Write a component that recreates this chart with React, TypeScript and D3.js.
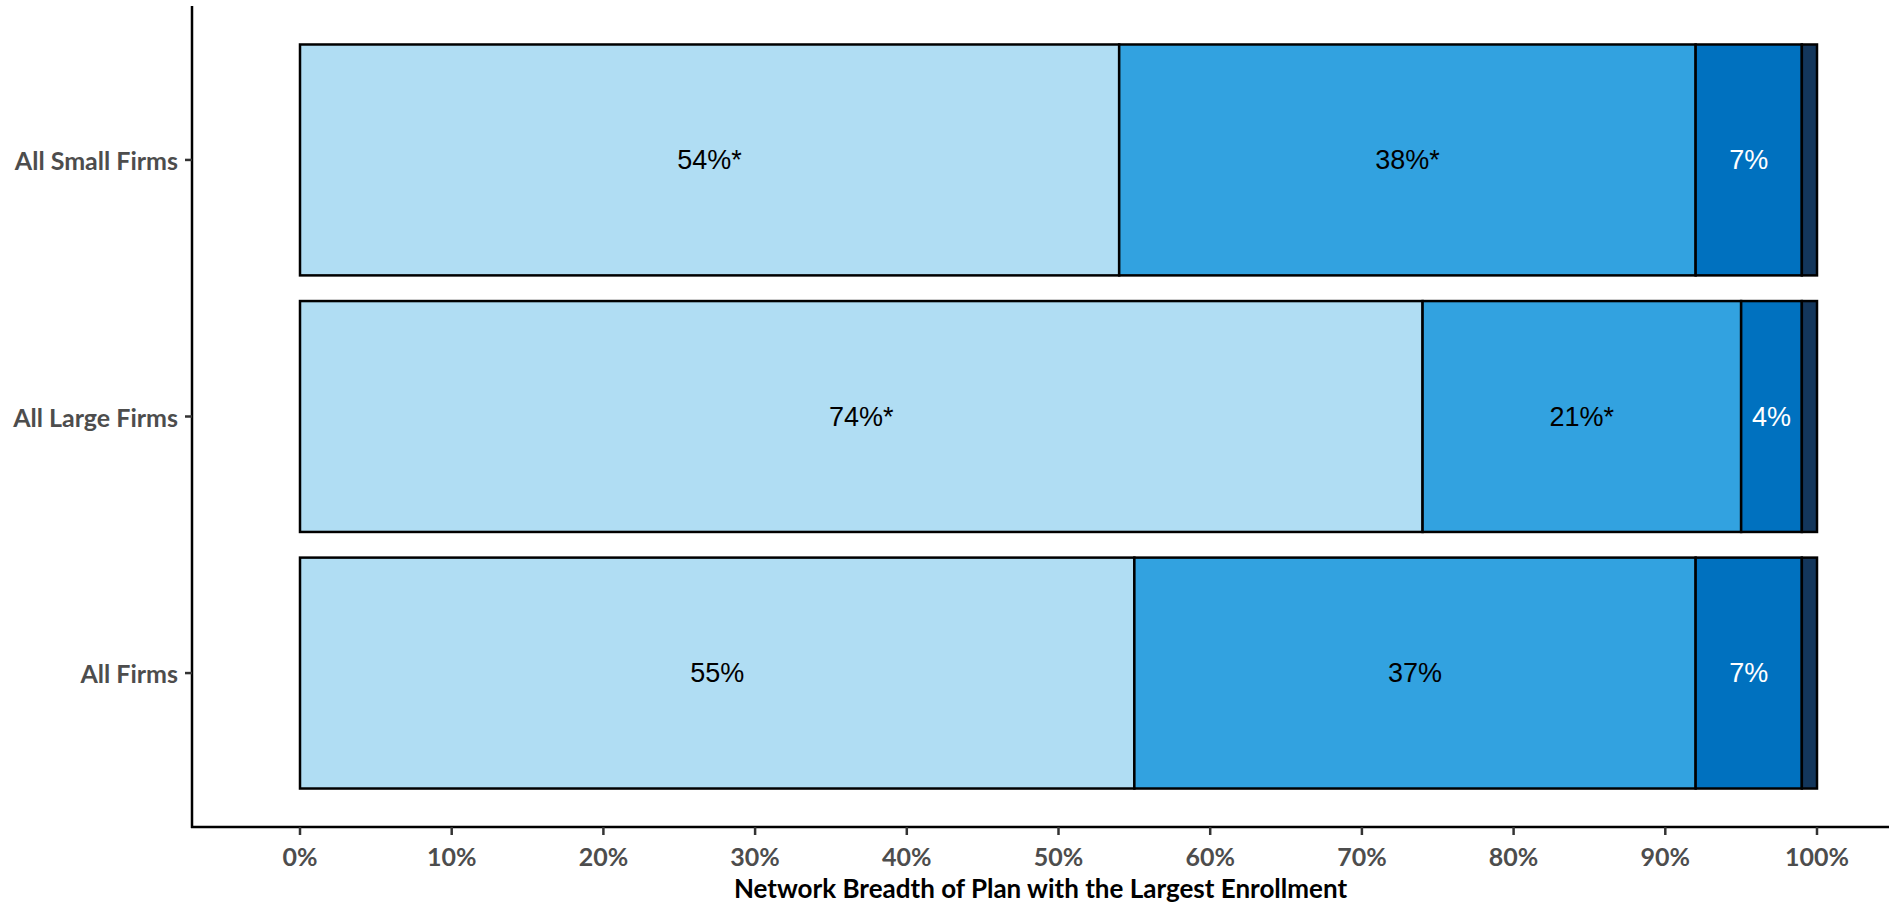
import React, { useEffect } from "react";
import * as d3 from "d3";

const categories = ["All Small Firms", "All Large Firms", "All Firms"];
const seriesKeys = ["Very Broad", "Somewhat Broad", "Somewhat Narrow", "Very Narrow"];
const veryBroad = [54, 74, 55];
const somewhatBroad = [38, 21, 37];
const somewhatNarrow = [7, 4, 7];
const veryNarrow = [1, 1, 1];
const veryBroadLabels = ["54%*", "74%*", "55%"];
const somewhatBroadLabels = ["38%*", "21%*", "37%"];
const somewhatNarrowLabels = ["7%", "4%", "7%"];
const veryNarrowLabels = ["", "", ""];
const xTicks = [0, 10, 20, 30, 40, 50, 60, 70, 80, 90, 100];
const xTitle = "Network Breadth of Plan with the Largest Enrollment";

const colors = ["#b0ddf3", "#32a2e0", "#0071bf", "#13365b"];
const labelColors = ["#000000", "#000000", "#ffffff", "#ffffff"];

const W = 1889;
const H = 903;

export default function App() {
  useEffect(() => {
    document.body.style.margin = "0";
  }, []);

  const series = [veryBroad, somewhatBroad, somewhatNarrow, veryNarrow];
  const labels = [veryBroadLabels, somewhatBroadLabels, somewhatNarrowLabels, veryNarrowLabels];

  const x = d3.scaleLinear().domain([0, 100]).range([300, 1817]);
  const y = d3.scaleBand<string>().domain(categories).range([6, 827]).paddingInner(0.1).paddingOuter(0.15);

  const table = categories.map((c, i) => {
    const row: any = { category: c };
    seriesKeys.forEach((k, s) => (row[k] = series[s][i]));
    return row;
  });
  const stacked = d3.stack<any>().keys(seriesKeys)(table);

  const axisX0 = 192;
  const axisY = 827;
  const axisFont = "Lato, 'Open Sans', sans-serif";

  return (
    <svg width={W} height={H} style={{ display: "block", background: "#fff" }}>
      {stacked.map((layer, s) => (
        <g key={seriesKeys[s]}>
          {layer.map((d, i) => {
            const x0 = x(d[0]);
            const x1 = x(d[1]);
            const yy = y(categories[i]) as number;
            return (
              <rect
                key={i}
                x={x0}
                y={yy}
                width={x1 - x0}
                height={y.bandwidth()}
                fill={colors[s]}
                stroke="#000"
                strokeWidth={2.5}
              />
            );
          })}
        </g>
      ))}
      {stacked.map((layer, s) => (
        <g key={"lab" + s}>
          {layer.map((d, i) => {
            const lab = labels[s][i];
            if (!lab) return null;
            const cx = (x(d[0]) + x(d[1])) / 2;
            const cy = (y(categories[i]) as number) + y.bandwidth() / 2;
            return (
              <text
                key={i}
                x={cx}
                y={cy}
                textAnchor="middle"
                dominantBaseline="central"
                fontFamily="'Liberation Sans', Arial, sans-serif"
                fontSize={27}
                fill={labelColors[s]}
              >
                {lab}
              </text>
            );
          })}
        </g>
      ))}
      {/* y axis */}
      <line x1={axisX0} x2={axisX0} y1={6} y2={axisY + 1} stroke="#000" strokeWidth={2.5} />
      {categories.map((c) => {
        const cy = (y(c) as number) + y.bandwidth() / 2;
        return (
          <g key={c}>
            <line x1={axisX0 - 7} x2={axisX0} y1={cy} y2={cy} stroke="#333" strokeWidth={2.5} />
            <text
              x={axisX0 - 14}
              y={cy}
              textAnchor="end"
              dominantBaseline="central"
              fontFamily={axisFont}
              fontWeight="bold"
              fontSize={25}
              fill="#4d4d4d"
            >
              {c}
            </text>
          </g>
        );
      })}
      {/* x axis */}
      <line x1={axisX0 - 1} x2={W} y1={axisY} y2={axisY} stroke="#000" strokeWidth={2.5} />
      {xTicks.map((t) => (
        <g key={t}>
          <line x1={x(t)} x2={x(t)} y1={axisY} y2={axisY + 8} stroke="#333" strokeWidth={2.5} />
          <text
            x={x(t)}
            y={856}
            textAnchor="middle"
            dominantBaseline="central"
            fontFamily={axisFont}
            fontWeight="bold"
            fontSize={25}
            fill="#4d4d4d"
          >
            {t + "%"}
          </text>
        </g>
      ))}
      <text
        x={(axisX0 + W) / 2}
        y={898}
        textAnchor="middle"
        fontFamily={axisFont}
        fontWeight="bold"
        fontSize={26}
        fill="#000"
      >
        {xTitle}
      </text>
    </svg>
  );
}
